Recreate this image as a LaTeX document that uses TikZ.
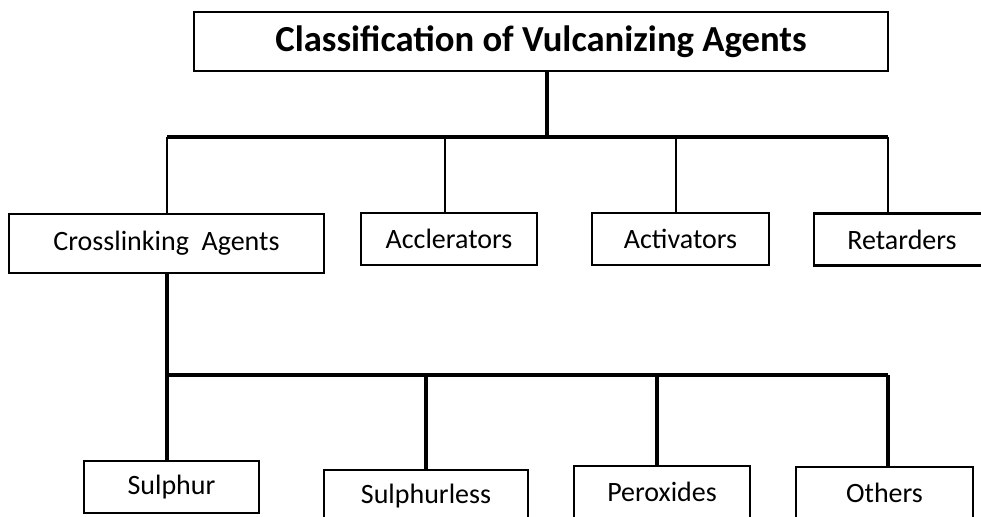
\documentclass[tikz,border=0pt]{standalone}
\usepackage{fontspec}
\setmainfont{Carlito}
\tikzset{
  agentbox/.style={draw, line width=1.6pt, minimum width=176, minimum height=52,
    inner sep=0pt, font=\fontsize{21}{25}\selectfont},
  bus/.style={line width=2.3pt},
  drop/.style={line width=1.6pt},
}
\begin{document}
\begin{tikzpicture}[x=0.75pt, y=-0.75pt]
    \useasboundingbox (0,0) rectangle (981,517);
    \clip (0,0) rectangle (981,517);

    % Titolo
    \node[draw, line width=1.6pt, minimum width=694*0.75pt, minimum height=59*0.75pt,
      font=\fontsize{27.5}{32}\selectfont\bfseries] (title) at (541,41.5)
      {Classification of Vulcanizing Agents};

    % Primo livello
    \node[agentbox, minimum width=315*0.75pt, minimum height=59*0.75pt] (cross) at (166.5,243.5) {Crosslinking\ \ Agents};
    \node[agentbox, minimum width=176*0.75pt, minimum height=52*0.75pt] (accl) at (449,239) {Acclerators};
    \node[agentbox, minimum width=177*0.75pt, minimum height=52*0.75pt] (activ) at (680.5,239) {Activators};
    \node[agentbox, minimum width=176*0.75pt, minimum height=52*0.75pt] (retard) at (902,239.5) {Retarders};

    % Secondo livello
    \node[agentbox, minimum width=175*0.75pt, minimum height=52*0.75pt] (sulphur) at (171.5,487) {Sulphur};
    \node[agentbox, minimum width=204*0.75pt, minimum height=52*0.75pt] (sulphurless) at (426,496) {Sulphurless};
    \node[agentbox, minimum width=176*0.75pt, minimum height=52*0.75pt] (peroxides) at (662,492) {Peroxides};
    \node[agentbox, minimum width=177*0.75pt, minimum height=52*0.75pt] (others) at (884.5,493) {Others};

    % Punti del bus superiore
    \coordinate (topA) at (167,137);
    \coordinate (topB) at (445,137);
    \coordinate (topC) at (676,137);
    \coordinate (topD) at (888,137);
    \coordinate (topM) at (547,137);

    % Linee superiori
    \draw[bus] (title.south -| topM) -- (topM);
    \draw[bus] (topA) -- (topD);
    \draw[drop] (topA) -- (topA |- cross.north);
    \draw[drop] (topB) -- (topB |- accl.north);
    \draw[drop] (topC) -- (topC |- activ.north);
    \draw[drop] (topD) -- (topD |- retard.north);

    % Punti del bus inferiore
    \coordinate (lowA) at (167,375);
    \coordinate (lowB) at (426,375);
    \coordinate (lowC) at (657,375);
    \coordinate (lowD) at (888,375);

    % Linee inferiori
    \draw[bus] (cross.south -| lowA) -- (lowA |- sulphur.north);
    \draw[bus] (lowA) -- (lowD);
    \draw[bus] (lowB) -- (lowB |- sulphurless.north);
    \draw[bus] (lowC) -- (lowC |- peroxides.north);
    \draw[bus] (lowD) -- (lowD |- others.north);
\end{tikzpicture}
\end{document}
